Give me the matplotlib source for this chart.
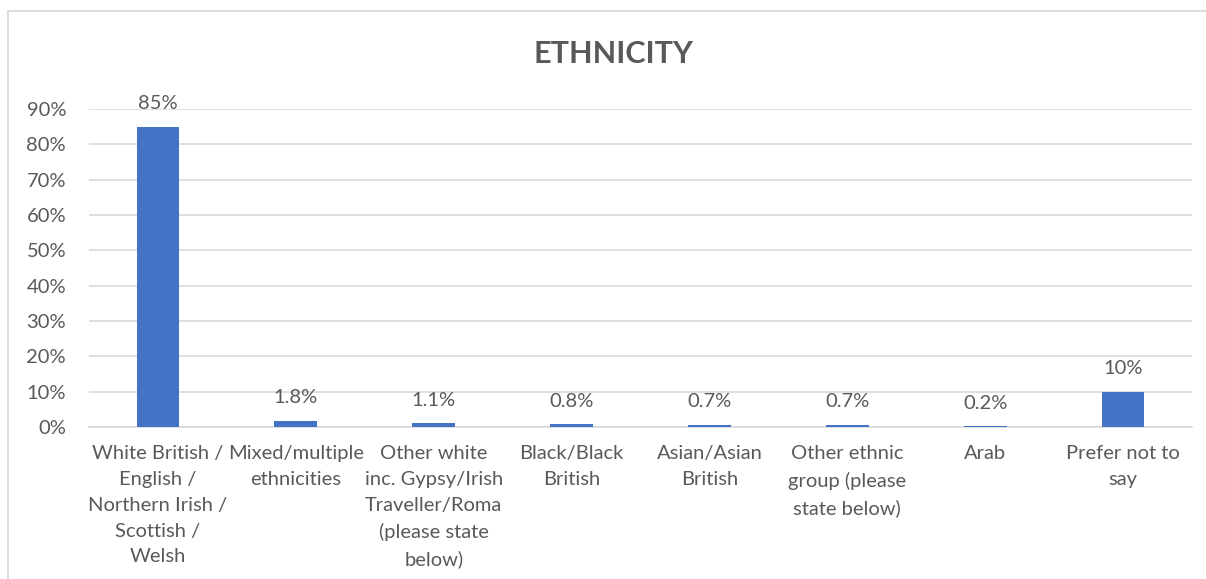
import matplotlib
matplotlib.use("Agg")
import matplotlib.pyplot as plt
from matplotlib.patches import Rectangle
from matplotlib.ticker import FuncFormatter

categories = [
    "White British /\nEnglish /\nNorthern Irish /\nScottish /\nWelsh",
    "Mixed/multiple\nethnicities",
    "Other white\ninc. Gypsy/Irish\nTraveller/Roma\n(please state\nbelow)",
    "Black/Black\nBritish",
    "Asian/Asian\nBritish",
    "Other ethnic\ngroup (please\nstate below)",
    "Arab",
    "Prefer not to\nsay",
]
values = [85, 1.8, 1.1, 0.8, 0.7, 0.7, 0.2, 10]
value_labels = ["85%", "1.8%", "1.1%", "0.8%", "0.7%", "0.7%", "0.2%", "10%"]
yticks = [0, 10, 20, 30, 40, 50, 60, 70, 80, 90]

BAR = "#4472C4"
TEXT = "#595959"
GRID = "#D9D9D9"
FONT = ["Lato", "DejaVu Sans"]
FS = 14.5

W, H = 1206, 579
fig = plt.figure(figsize=(W / 100, H / 100), dpi=100)
fig.patch.set_facecolor("white")

# chart frame
fig.patches.append(Rectangle((8 / W, -0.1), 1.2, 1 - 11 / H + 0.1,
                             transform=fig.transFigure, fill=False,
                             edgecolor=GRID, linewidth=1.3))

ax = fig.add_axes([89 / W, 1 - 427 / H, (1192 - 89) / W, (427 - 109) / H])
x = range(len(categories))
ax.bar(x, values, width=0.31, color=BAR, zorder=3)
ax.set_xlim(-0.5, len(categories) - 0.5)
ax.set_ylim(0, 90)
ax.set_yticks(yticks)
ax.yaxis.set_major_formatter(FuncFormatter(lambda v, p: f"{v:.0f}%"))
ax.set_xticks(list(x))
ax.set_xticklabels(categories, family=FONT, fontsize=FS, color=TEXT,
                   linespacing=1.63, va="top")
for lbl in ax.get_yticklabels():
    lbl.set_family(FONT)
    lbl.set_fontsize(FS)
    lbl.set_color(TEXT)
ax.tick_params(axis="both", length=0)
ax.tick_params(axis="y", pad=16.5)
ax.tick_params(axis="x", pad=13)
ax.grid(axis="y", color=GRID, linewidth=1.2, zorder=0)
for s in ["top", "right", "left"]:
    ax.spines[s].set_visible(False)
ax.spines["bottom"].set_color(GRID)
ax.spines["bottom"].set_linewidth(1.2)

for xi, v, t in zip(x, values, value_labels):
    ax.annotate(t, (xi, v), xytext=(0, 10.5), textcoords="offset points",
                ha="center", va="bottom", family=FONT, fontsize=FS,
                color=TEXT)

fig.text(613 / W, 1 - 54 / H, "ETHNICITY", ha="center", va="center",
         family=FONT, fontsize=22, fontweight="bold", color=TEXT)

fig.savefig("out.png", dpi=100, facecolor="white")
